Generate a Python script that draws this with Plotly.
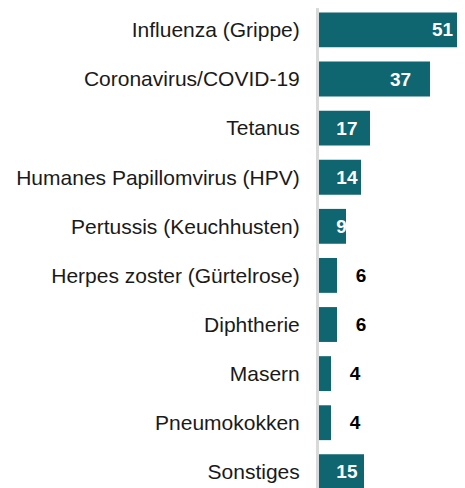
import plotly.graph_objects as go

categories = ['Influenza (Grippe)', 'Coronavirus/COVID-19', 'Tetanus',
              'Humanes Papillomvirus (HPV)', 'Pertussis (Keuchhusten)',
              'Herpes zoster (Gürtelrose)', 'Diphtherie', 'Masern',
              'Pneumokokken', 'Sonstiges']
values = [51, 37, 17, 14, 9, 6, 6, 4, 4, 15]

bar_color = '#0f6570'
nb = '\u00a0'
thin = '\u2009'
label_font = dict(family='Liberation Sans, Arial', size=19, weight='bold')

fig = go.Figure()

# big bars: label at bar end, medium bars: label near bar start, small bars: label outside
groups = [
    (lambda v: v >= 30, lambda v: f'{v}{nb*3}', 'inside', 'end', 'white'),
    (lambda v: 9 <= v < 30, lambda v: f'{nb*2}{thin}{v}', 'inside', 'start', 'white'),
    (lambda v: v < 9, lambda v: f'{nb*3}{v}', 'outside', 'start', 'black'),
]
for keep, fmt, pos, anchor, col in groups:
    xs = [v if keep(v) else None for v in values]
    fig.add_trace(go.Bar(
        x=xs, y=categories, orientation='h',
        marker=dict(color=bar_color, line=dict(width=0)),
        text=[fmt(v) if v is not None else '' for v in xs],
        textposition=pos, insidetextanchor=anchor, textangle=0,
        constraintext='none', cliponaxis=False,
        textfont=dict(color=col, **label_font), showlegend=False,
    ))

fig.update_layout(
    width=465, height=488,
    margin=dict(l=311, r=0, t=0, b=8),
    barmode='overlay', bargap=0.29,
    plot_bgcolor='white', paper_bgcolor='white',
    font=dict(family='Liberation Sans, Arial', size=21, color='#1a1a1a'),
)
fig.update_xaxes(range=[0, 51.33], visible=False, showgrid=False,
                 zeroline=False, automargin=False)
fig.update_yaxes(categoryorder='array', categoryarray=categories,
                 range=[9.33, -0.447], showline=True, linecolor='#d9d9d9',
                 linewidth=3, ticks='', ticklabelstandoff=12,
                 showgrid=False, zeroline=False, automargin=False)

fig.write_html('out.html')
